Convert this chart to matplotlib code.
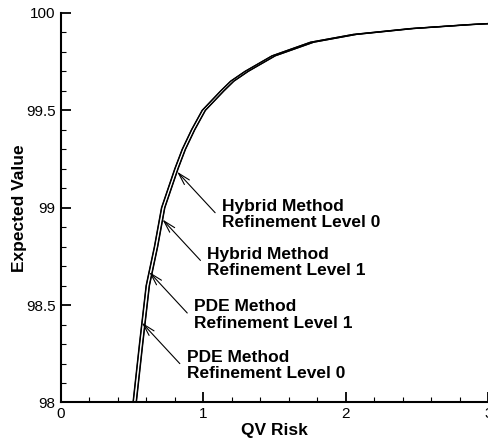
import numpy as np
import matplotlib
matplotlib.use('Agg')
import matplotlib.pyplot as plt
from matplotlib.ticker import MultipleLocator, FormatStrFormatter

plt.rcParams.update({
    'font.family': ['Liberation Sans', 'DejaVu Sans'],
    'font.size': 11,
    'axes.linewidth': 1.5,
    'xtick.direction': 'in',
    'ytick.direction': 'in',
})

# expected value levels shared by all frontier curves
ev = [98.0, 98.3, 98.6, 98.8, 99.0, 99.2, 99.3, 99.4, 99.5, 99.6,
      99.65, 99.7, 99.78, 99.85, 99.89, 99.92, 99.94, 99.95]

# QV risk of each method / refinement level at those expected values
qv_pde_0 = [0.505, 0.550, 0.597, 0.655, 0.705, 0.798, 0.850, 0.915, 0.990, 1.120,
            1.190, 1.290, 1.480, 1.750, 2.050, 2.450, 2.850, 3.100]
qv_pde_1 = [0.507, 0.552, 0.599, 0.657, 0.707, 0.800, 0.852, 0.917, 0.992, 1.122,
            1.192, 1.292, 1.482, 1.752, 2.052, 2.452, 2.852, 3.102]
qv_hyb_1 = [0.527, 0.572, 0.619, 0.677, 0.727, 0.820, 0.872, 0.937, 1.012, 1.142,
            1.212, 1.312, 1.502, 1.772, 2.072, 2.472, 2.872, 3.122]
qv_hyb_0 = [0.529, 0.574, 0.621, 0.679, 0.729, 0.822, 0.874, 0.939, 1.014, 1.144,
            1.214, 1.314, 1.504, 1.774, 2.074, 2.474, 2.874, 3.124]

labels = ['Hybrid Method\nRefinement Level 0',
          'Hybrid Method\nRefinement Level 1',
          'PDE Method\nRefinement Level 1',
          'PDE Method\nRefinement Level 0']
# expected value where each arrow touches its curve
label_ev = [99.185, 98.94, 98.67, 98.41]

fig = plt.figure(figsize=(4.88, 4.42), dpi=100)
ax = fig.add_axes([0.125, 0.0894, 0.876, 0.8812])

series = [qv_hyb_0, qv_hyb_1, qv_pde_1, qv_pde_0]
for qv in series:
    ax.plot(qv, ev, color='black', lw=0.9, solid_joinstyle='miter')

for qv, lab, y in zip(series, labels, label_ev):
    x = np.interp(y, ev, qv)
    ax.annotate('', xy=(x, y), xytext=(38, -41), textcoords='offset pixels',
                arrowprops=dict(arrowstyle='->,head_length=0.8,head_width=0.22',
                                lw=0.8, color='black', shrinkA=0, shrinkB=0))
    ax.annotate(lab, xy=(x, y), xytext=(45, -43), textcoords='offset pixels',
                ha='left', va='center', fontsize=12.5, fontweight='bold',
                linespacing=1.1)

ax.set_xlim(0, 3)
ax.set_ylim(98, 100)
ax.spines['top'].set_visible(False)
ax.spines['right'].set_visible(False)

ax.xaxis.set_major_locator(MultipleLocator(1))
ax.xaxis.set_minor_locator(MultipleLocator(0.2))
ax.yaxis.set_major_locator(MultipleLocator(0.5))
ax.yaxis.set_minor_locator(MultipleLocator(0.1))
ax.yaxis.set_major_formatter(FormatStrFormatter('%g'))
ax.tick_params(which='major', length=7.2, width=1.3, labelsize=11, pad=4)
ax.tick_params(which='minor', length=3.8, width=0.8)
ax.tick_params(axis='x', which='major', pad=3)

ax.set_xlabel('QV Risk', fontsize=12.5, fontweight='bold', labelpad=2)
ax.set_ylabel('Expected Value', fontsize=12.5, fontweight='bold')
ax.yaxis.set_label_coords(-0.08, 0.5)

fig.savefig('out.png', dpi=100, facecolor='white')
